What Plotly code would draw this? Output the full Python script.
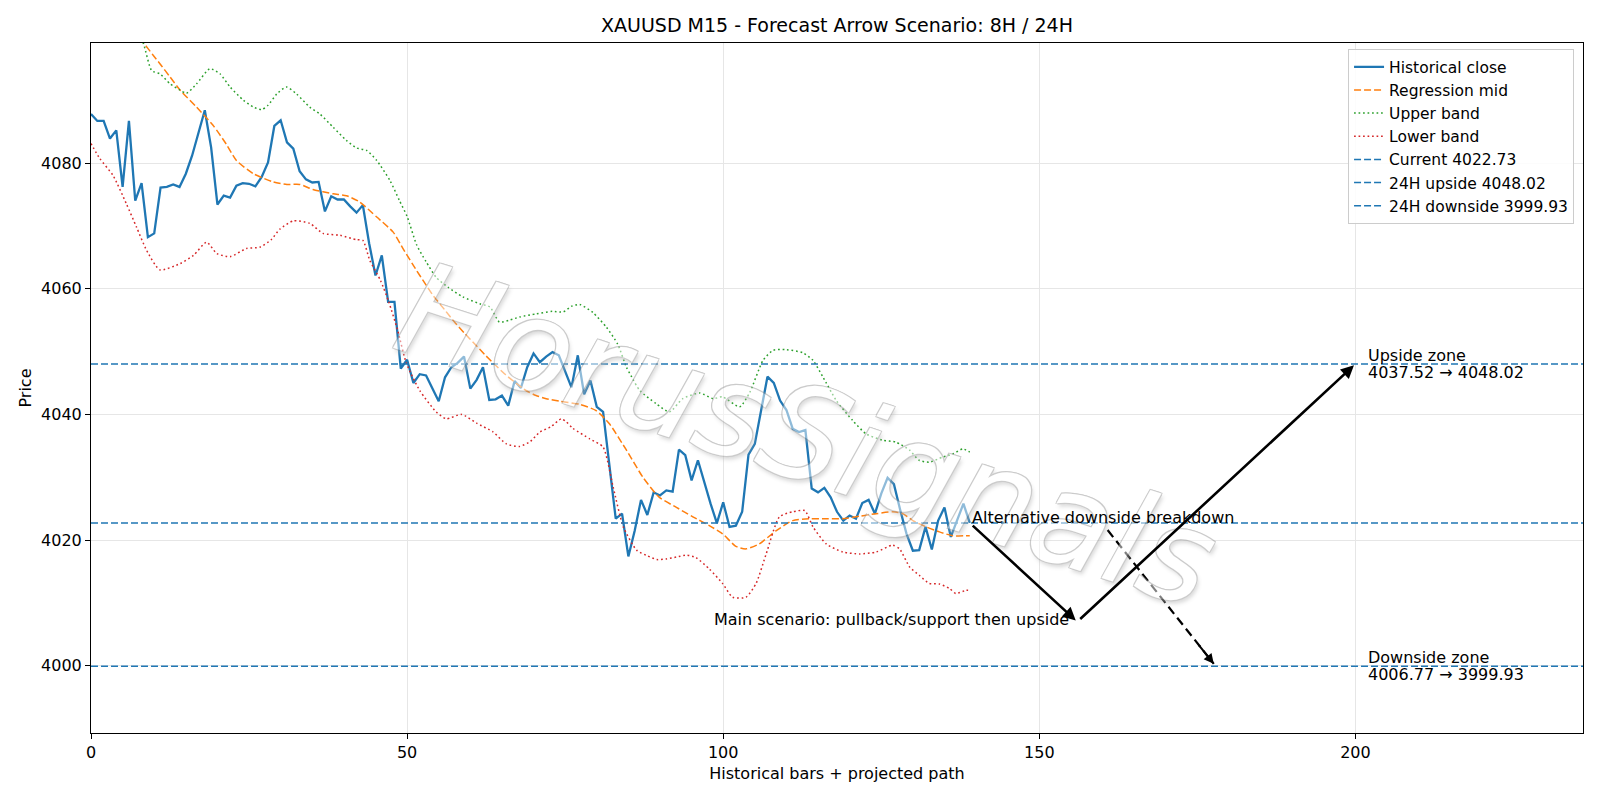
import plotly.graph_objects as go

# ---------------- data ----------------
close_vals = [
    4087.8, 4086.7, 4086.7, 4083.9, 4085.2, 4076.2, 4086.7, 4074.0, 4076.8, 4068.2,
    4068.8, 4076.1, 4076.2, 4076.6, 4076.2, 4078.3, 4081.2, 4084.7, 4088.4, 4082.5,
    4073.4, 4074.8, 4074.5, 4076.4, 4076.8, 4076.7, 4076.3, 4077.8, 4080.1, 4085.9,
    4086.8, 4083.3, 4082.3, 4078.7, 4077.4, 4076.9, 4077.0, 4072.3, 4074.7, 4074.2,
    4074.2, 4073.1, 4072.1, 4073.3, 4067.2, 4062.1, 4065.3, 4057.9, 4057.9, 4047.3,
    4048.7, 4045.0, 4046.4, 4046.2, 4044.1, 4042.1, 4045.9, 4047.5, 4048.2, 4049.2,
    4044.1, 4045.5, 4047.5, 4042.3, 4042.4, 4043.0, 4041.4, 4045.3, 4044.2, 4047.5,
    4049.7, 4048.3, 4049.2, 4049.9, 4049.4, 4047.0, 4044.3, 4049.4, 4043.2, 4045.4,
    4041.2, 4040.4, 4031.8, 4023.4, 4024.2, 4017.4, 4021.5, 4026.4, 4024.0, 4027.6,
    4027.1, 4027.9, 4027.7, 4034.4, 4033.5, 4029.5, 4032.7, 4029.2, 4025.8, 4022.7,
    4026.0, 4022.1, 4022.3, 4024.5, 4033.6, 4035.3, 4040.6, 4046.0, 4045.0, 4042.2,
    4040.7, 4037.7, 4037.2, 4037.5, 4028.2, 4027.6, 4028.3, 4026.8, 4024.5, 4023.1,
    4023.9, 4023.4, 4025.9, 4026.4, 4024.2, 4027.4, 4029.9, 4028.9, 4024.8, 4021.0,
    4018.3, 4018.4, 4022.1, 4018.5, 4023.1, 4025.2, 4020.5, 4023.1, 4025.8, 4022.73,
]
close_x = list(range(len(close_vals)))

mid_x = [0, 4, 8.4, 9.8, 10.9, 12.5, 14.1, 16.7, 19.3, 21.4, 23.0, 25.7, 28.8, 31.0, 33.0,
         35.1, 38.3, 40.4, 42.5, 45.2, 47.8, 49.4, 51.5, 52.6, 54.2, 55.9, 57.5, 59.1,
         60.7, 62.3, 63.9, 65.6, 67.2, 68.8, 70.4, 72.0, 74.1, 77.3, 79.9, 82.0, 84.7,
         87.3, 89.9, 92.6, 95.2, 97.8, 99.9, 102.0, 103.6, 105.7, 108.4, 111.0, 113.6,
         116.3, 118.9, 121.6, 124.2, 126.8, 128.4, 130.0, 132.1, 134.2, 136.3, 139.0]
mid_vals = [4110.0, 4104.5, 4099.0, 4097.2, 4095.8, 4093.7, 4091.6, 4088.9, 4086.0, 4083.0,
            4080.4, 4078.3, 4077.0, 4076.6, 4076.6, 4075.8, 4075.1, 4074.8, 4073.8, 4071.4,
            4069.0, 4066.3, 4062.9, 4061.2, 4058.8, 4056.7, 4054.7, 4052.9, 4051.2, 4049.5,
            4047.9, 4046.3, 4045.0, 4043.8, 4043.0, 4042.5, 4042.1, 4041.6, 4040.6, 4038.5,
            4034.3, 4030.0, 4026.8, 4025.2, 4023.7, 4022.3, 4021.0, 4019.0, 4018.6, 4019.4,
            4021.5, 4023.1, 4023.4, 4023.4, 4023.4, 4023.8, 4024.2, 4024.5, 4024.2, 4023.1,
            4022.1, 4021.3, 4020.7, 4020.7]

upper_x = [0, 5, 8.3, 9.6, 10.9, 12.5, 14.1, 15.1, 16.7, 18.8, 20.4, 22.0, 24.1, 25.7, 27.0,
           28.0, 29.4, 30.9, 32.5, 34.6, 36.2, 38.3, 40.4, 42.0, 43.6, 45.2, 47.3, 48.8,
           50.0, 51.5, 53.0, 54.6, 56.5, 58.8, 61.5, 63.1, 64.6, 66.2, 67.8, 70.4, 73.0,
           74.7, 76.0, 77.3, 79.4, 81.5, 83.3, 84.7, 85.5, 86.8, 89.4, 91.5, 93.6, 96.3,
           98.4, 99.9, 102.6, 104.2, 106.3, 107.9, 110.0, 112.6, 114.2, 115.8, 117.9,
           120.5, 122.6, 125.2, 127.3, 129.5, 131.0, 132.6, 134.7, 136.3, 137.9, 139.0]
upper_vals = [4115.0, 4107.0, 4099.0, 4094.7, 4094.2, 4092.6, 4091.6, 4091.1, 4092.6, 4095.0,
              4094.2, 4092.1, 4090.0, 4088.9, 4088.5, 4089.2, 4091.0, 4092.1, 4091.0, 4088.9,
              4087.8, 4085.7, 4083.6, 4082.4, 4082.0, 4080.4, 4077.2, 4074.0, 4071.5, 4067.0,
              4064.3, 4061.8, 4060.2, 4058.7, 4057.6, 4057.1, 4054.7, 4055.0, 4055.5, 4056.0,
              4056.4, 4056.3, 4057.2, 4057.5, 4056.2, 4053.9, 4051.2, 4047.5, 4046.0, 4043.8,
              4041.7, 4040.4, 4042.5, 4043.4, 4042.5, 4042.8, 4041.2, 4043.5, 4048.6, 4050.2,
              4050.3, 4049.8, 4048.6, 4045.9, 4042.2, 4039.0, 4036.9, 4035.9, 4035.6, 4034.3,
              4032.7, 4032.4, 4033.2, 4033.7, 4034.5, 4034.0]

lower_x = [0, 1.4, 3.5, 5.6, 7.2, 8.8, 10.9, 14.1, 16.2, 18.3, 19.9, 22.0, 24.6, 26.7, 28.5,
           29.9, 32.0, 34.6, 36.7, 39.4, 42.0, 43.0, 44.1, 45.8, 47.1, 48.5, 49.9, 52.0,
           54.6, 56.2, 58.6, 61.0, 63.6, 65.7, 67.8, 69.5, 71.0, 72.7, 74.4, 75.2, 76.2,
           78.9, 81.0, 82.6, 84.2, 86.3, 88.0, 89.5, 91.0, 92.6, 94.2, 95.7, 97.8, 99.9,
           101.5, 103.6, 105.2, 106.8, 108.9, 111.0, 112.9, 114.2, 116.3, 118.9, 121.6,
           124.2, 126.8, 127.9, 129.5, 131.0, 132.6, 134.2, 135.8, 136.8, 138.4, 139.0]
lower_vals = [4083.1, 4080.7, 4078.0, 4073.5, 4069.8, 4066.1, 4063.0, 4064.0, 4065.3, 4067.4,
              4065.6, 4065.1, 4066.4, 4066.6, 4067.8, 4069.5, 4070.8, 4070.4, 4068.8, 4068.5,
              4067.8, 4067.7, 4064.5, 4061.3, 4057.9, 4053.4, 4048.1, 4043.8, 4040.4, 4039.3,
              4040.0, 4038.6, 4037.2, 4035.3, 4034.9, 4035.7, 4037.2, 4038.0, 4039.3, 4038.8,
              4037.8, 4036.1, 4034.8, 4028.4, 4022.1, 4018.4, 4017.5, 4016.9, 4017.0, 4017.3,
              4017.6, 4017.2, 4015.4, 4013.1, 4010.9, 4010.9, 4013.1, 4017.8, 4023.7, 4024.5,
              4024.7, 4022.1, 4019.4, 4018.1, 4017.8, 4018.1, 4019.2, 4018.6, 4015.7, 4014.4,
              4013.1, 4013.0, 4012.3, 4011.5, 4012.0, 4012.0]

current_level = 4022.73
upside_level = 4048.02
downside_level = 3999.93
upside_zone = (4037.52, 4048.02)
downside_zone = (4006.77, 3999.93)

# projected scenario paths (bar index, price)
main_path_x = [139, 156, 200]
main_path_y = [4022.73, 4007.0, 4048.02]
alt_path_x = [160.8, 177.6]
alt_path_y = [4021.6, 4000.3]

x_range = [0, 236]
y_range = [3989.3, 4099.1]
x_ticks = [0, 50, 100, 150, 200]
y_ticks = [4000, 4020, 4040, 4060, 4080]

title_text = "XAUUSD M15 - Forecast Arrow Scenario: 8H / 24H"
watermark_text = "HorusSignals"

# ---------------- styling ----------------
FONT = "DejaVu Sans"
FS = 16
BLUE = "#1f77b4"
ORANGE = "#ff7f0e"
GREEN = "#2ca02c"
RED = "#d62728"
DASH = "7px,3px"
DOT = "1.7px,2.8px"

fig = go.Figure()

fig.add_trace(go.Scatter(x=close_x, y=close_vals, mode="lines", name="Historical close",
                         line=dict(color=BLUE, width=2.3)))
fig.add_trace(go.Scatter(x=mid_x, y=mid_vals, mode="lines", name="Regression mid",
                         line=dict(color=ORANGE, width=1.5, dash=DASH, shape="spline", smoothing=0.6)))
fig.add_trace(go.Scatter(x=upper_x, y=upper_vals, mode="lines", name="Upper band",
                         line=dict(color=GREEN, width=1.5, dash=DOT, shape="spline", smoothing=0.6)))
fig.add_trace(go.Scatter(x=lower_x, y=lower_vals, mode="lines", name="Lower band",
                         line=dict(color=RED, width=1.5, dash=DOT, shape="spline", smoothing=0.6)))

for lvl, nm in [(current_level, f"Current {current_level:.2f}"),
                (upside_level, f"24H upside {upside_level:.2f}"),
                (downside_level, f"24H downside {downside_level:.2f}")]:
    fig.add_trace(go.Scatter(x=x_range, y=[lvl, lvl], mode="lines", name=nm,
                             line=dict(color=BLUE, width=1.5, dash=DASH)))

# dashed shaft of the alternative arrow
fig.add_trace(go.Scatter(x=alt_path_x, y=alt_path_y, mode="lines", showlegend=False,
                         line=dict(color="black", width=2.2, dash="9px,5px"), hoverinfo="skip"))

annotations = []
# watermark
annotations.append(dict(
    x=113.3, y=4036.8, xref="x", yref="y", text=watermark_text, showarrow=False,
    textangle=18, opacity=0.5,
    font=dict(family=FONT, size=130, color="white", style="italic", weight=200,
              shadow="1px 1px 0 #999, -1px -1px 0 #999, 1px -1px 0 #999, -1px 1px 0 #999, 3px 3px 4px #bbb"),
))
# main scenario arrows
for i in range(len(main_path_x) - 1):
    annotations.append(dict(
        x=main_path_x[i + 1], y=main_path_y[i + 1], ax=main_path_x[i], ay=main_path_y[i],
        xref="x", yref="y", axref="x", ayref="y", text="", showarrow=True,
        arrowhead=2, arrowsize=1.0, arrowwidth=2.6, arrowcolor="black",
        standoff=2, startstandoff=2,
    ))
# alternative arrow head
annotations.append(dict(
    x=alt_path_x[-1], y=alt_path_y[-1],
    ax=alt_path_x[-1] - 0.15 * (alt_path_x[-1] - alt_path_x[0]),
    ay=alt_path_y[-1] - 0.15 * (alt_path_y[-1] - alt_path_y[0]),
    xref="x", yref="y", axref="x", ayref="y", text="", showarrow=True,
    arrowhead=2, arrowsize=1.0, arrowwidth=2.0, arrowcolor="black",
))
# labels
annotations.append(dict(x=main_path_x[1] - 1.0, y=main_path_y[1] + 0.4, xref="x", yref="y",
                        text="Main scenario: pullback/support then upside", showarrow=False,
                        xanchor="right", yanchor="middle",
                        font=dict(family=FONT, size=FS, color="black")))
annotations.append(dict(x=main_path_x[0], y=current_level + 0.9, xref="x", yref="y",
                        text="Alternative downside breakdown", showarrow=False,
                        xanchor="left", yanchor="middle",
                        font=dict(family=FONT, size=FS, color="black")))
for lvl, head, zone in [(upside_level, "Upside zone", upside_zone),
                        (downside_level, "Downside zone", downside_zone)]:
    annotations.append(dict(x=201.6, y=lvl, xref="x", yref="y", text=head,
                            showarrow=False, xanchor="left", yanchor="bottom", yshift=-3,
                            font=dict(family=FONT, size=FS, color="black")))
    annotations.append(dict(x=201.6, y=lvl, xref="x", yref="y",
                            text=f"{zone[0]:.2f} → {zone[1]:.2f}",
                            showarrow=False, xanchor="left", yanchor="top", yshift=3,
                            font=dict(family=FONT, size=FS, color="black")))

axis_common = dict(
    showgrid=True, gridcolor="#e6e6e6", gridwidth=1, zeroline=False,
    showline=True, mirror=True, linecolor="black", linewidth=1.1,
    ticks="outside", ticklen=5, tickwidth=1.1, tickcolor="black",
    tickfont=dict(family=FONT, size=FS, color="black"),
)

fig.update_layout(
    width=1600, height=800, autosize=False,
    paper_bgcolor="white", plot_bgcolor="white",
    margin=dict(l=91, r=17, t=43, b=67, pad=0),
    title=dict(text=title_text, x=(91 + 746) / 1600, xanchor="center", y=1 - 25.5 / 800,
               yanchor="middle", font=dict(family=FONT, size=19, color="black")),
    xaxis=dict(range=x_range, tickvals=x_ticks, **axis_common,
               title=dict(text="Historical bars + projected path", standoff=6,
                          font=dict(family=FONT, size=FS, color="black"))),
    yaxis=dict(range=y_range, tickvals=y_ticks, **axis_common,
               title=dict(text="Price", standoff=5,
                          font=dict(family=FONT, size=FS, color="black"))),
    legend=dict(x=0.994, y=0.991, xanchor="right", yanchor="top",
                bgcolor="rgba(255,255,255,0.85)", bordercolor="#cccccc", borderwidth=1,
                font=dict(family=FONT, size=15.5, color="black")),
    annotations=annotations,
    showlegend=True,
)

fig.write_html("out.html")
